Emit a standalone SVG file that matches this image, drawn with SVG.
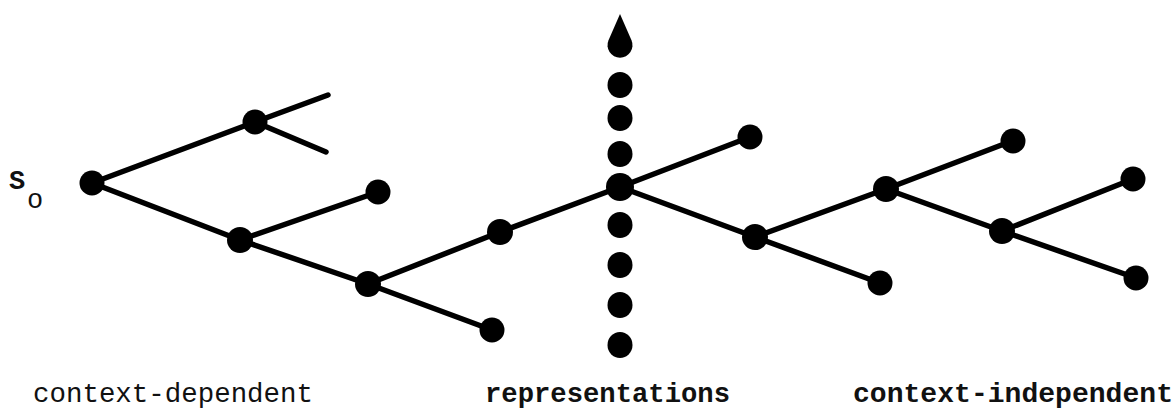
<svg xmlns="http://www.w3.org/2000/svg" width="1172" height="408" viewBox="0 0 1172 408">
<style>
.edge{stroke:#000;stroke-width:5.5;stroke-linecap:round;fill:none}
.node{fill:#000}
.dot{fill:#000}
.lbl{font-family:"Liberation Mono","Courier New",monospace;fill:#111;font-size:27px}
</style>
<rect width="1172" height="408" fill="#fff"/>
<g id="connectors">
<line class="edge" x1="92" y1="183" x2="255" y2="122"/>
<line class="edge" x1="255" y1="122" x2="328" y2="95"/>
<line class="edge" x1="255" y1="122" x2="326" y2="152"/>
<line class="edge" x1="92" y1="183" x2="240" y2="240"/>
<line class="edge" x1="240" y1="240" x2="378" y2="192"/>
<line class="edge" x1="240" y1="240" x2="368" y2="284"/>
<line class="edge" x1="368" y1="284" x2="492" y2="330"/>
<line class="edge" x1="368" y1="284" x2="500" y2="232"/>
<line class="edge" x1="500" y1="232" x2="620" y2="187"/>
<line class="edge" x1="620" y1="187" x2="750" y2="137"/>
<line class="edge" x1="620" y1="187" x2="755" y2="237"/>
<line class="edge" x1="755" y1="237" x2="880" y2="283"/>
<line class="edge" x1="755" y1="237" x2="886" y2="189"/>
<line class="edge" x1="886" y1="189" x2="1012" y2="141"/>
<line class="edge" x1="886" y1="189" x2="1002" y2="231"/>
<line class="edge" x1="1002" y1="231" x2="1133" y2="179"/>
<line class="edge" x1="1002" y1="231" x2="1136" y2="278"/>
</g>
<g id="axis">
<path class="dot" d="M620,14 L631.5,40.3 A12.5,12.5 0 1 1 608.5,40.3 Z"/>
<ellipse class="dot" cx="620" cy="85" rx="12.5" ry="13"/>
<ellipse class="dot" cx="620" cy="118" rx="12.5" ry="13"/>
<ellipse class="dot" cx="620" cy="154" rx="12.5" ry="13"/>
<ellipse class="dot" cx="620" cy="225" rx="12.5" ry="13"/>
<ellipse class="dot" cx="620" cy="265" rx="12.5" ry="13"/>
<ellipse class="dot" cx="620" cy="305" rx="12.5" ry="13"/>
<ellipse class="dot" cx="620" cy="345" rx="12.5" ry="13"/>
</g>
<g id="n-s0"><circle class="node" cx="92" cy="183" r="12.5"/>
<text class="lbl" x="9" y="189" font-weight="bold" font-size="30">S</text>
<text class="lbl" x="27" y="208" font-size="27">o</text></g>
<g id="n-a"><circle class="node" cx="255" cy="122" r="12.5"/></g>
<g id="n-b"><circle class="node" cx="240" cy="240" r="13"/></g>
<g id="n-b1"><circle class="node" cx="378" cy="192" r="12.5"/></g>
<g id="n-c"><circle class="node" cx="368" cy="284" r="13"/></g>
<g id="n-c1"><circle class="node" cx="492" cy="330" r="12.5"/></g>
<g id="n-d"><circle class="node" cx="500" cy="232" r="13"/></g>
<g id="n-e"><circle class="node" cx="620" cy="187" r="14"/></g>
<g id="n-e1"><circle class="node" cx="750" cy="137" r="12.5"/></g>
<g id="n-f"><circle class="node" cx="755" cy="237" r="13"/></g>
<g id="n-f1"><circle class="node" cx="880" cy="283" r="12.5"/></g>
<g id="n-g"><circle class="node" cx="886" cy="189" r="13"/></g>
<g id="n-g1"><circle class="node" cx="1013" cy="141" r="12.5"/></g>
<g id="n-h"><circle class="node" cx="1002" cy="231" r="13"/></g>
<g id="n-h1"><circle class="node" cx="1133" cy="179" r="12.5"/></g>
<g id="n-h2"><circle class="node" cx="1136" cy="278" r="12.5"/></g>
<g id="labels">
<text class="lbl" x="33" y="402" textLength="280" lengthAdjust="spacingAndGlyphs">context-dependent</text>
<text class="lbl" x="485" y="402" font-weight="bold" textLength="245" lengthAdjust="spacingAndGlyphs">representations</text>
<text class="lbl" x="853" y="402" font-weight="bold" textLength="320" lengthAdjust="spacingAndGlyphs">context-independent</text>
</g>
</svg>
